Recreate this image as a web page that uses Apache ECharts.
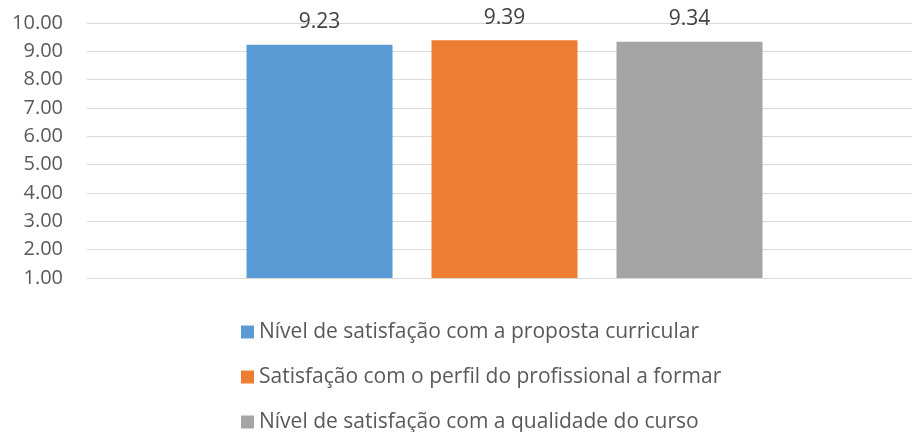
<!DOCTYPE html>
<html>
<head>
<meta charset="utf-8">
<script src="https://cdn.jsdelivr.net/npm/echarts@6/dist/echarts.min.js"></script>
<style>
  html, body { margin: 0; padding: 0; background: #fff; }
  #chart { width: 912px; height: 432px; }
</style>
</head>
<body>
<div id="chart"></div>
<script>
  // dados
  var categories = [''];
  var seriesNames = [
    'Nível de satisfação com a proposta curricular',
    'Satisfação com o perfil do profissional a formar',
    'Nível de satisfação com a qualidade do curso'
  ];
  var seriesValues = [[9.23], [9.39], [9.34]];
  var colors = ['#5b9bd5', '#ed7d31', '#a5a5a5'];

  var chart = echarts.init(document.getElementById('chart'));
  var font = '"Open Sans", sans-serif';

  var series = seriesNames.map(function (name, i) {
    return {
      name: name,
      type: 'bar',
      data: seriesValues[i],
      barWidth: 146,
      barGap: '26.7%',
      itemStyle: { color: colors[i] },
      label: {
        show: true,
        position: 'top',
        distance: 12,
        color: '#404040',
        fontFamily: font,
        fontSize: 21,
        formatter: function (p) { return p.value.toFixed(2); }
      }
    };
  });

  var option = {
    animation: false,
    grid: { left: 87, width: 835, top: 23, bottom: 154, outerBoundsMode: 'none' },
    legend: {
      orient: 'vertical',
      left: 236,
      top: 315,
      height: 125,
      itemWidth: 13,
      itemHeight: 13,
      itemGap: 21,
      icon: 'rect',
      textStyle: { color: '#595959', fontFamily: font, fontSize: 21, lineHeight: 24 },
      data: seriesNames
    },
    xAxis: {
      type: 'category',
      data: categories,
      axisLine: { lineStyle: { color: '#d9d9d9', width: 1 } },
      axisTick: { show: false },
      axisLabel: { show: false }
    },
    yAxis: {
      type: 'value',
      min: 1,
      max: 10,
      interval: 1,
      axisLine: { show: false },
      axisTick: { show: false },
      splitLine: { lineStyle: { color: '#d9d9d9', width: 1 } },
      axisLabel: {
        color: '#595959',
        fontFamily: font,
        fontSize: 20,
        margin: 24,
        formatter: function (v) { return v.toFixed(2); }
      }
    },
    series: series
  };

  chart.setOption(option);
</script>
</body>
</html>
